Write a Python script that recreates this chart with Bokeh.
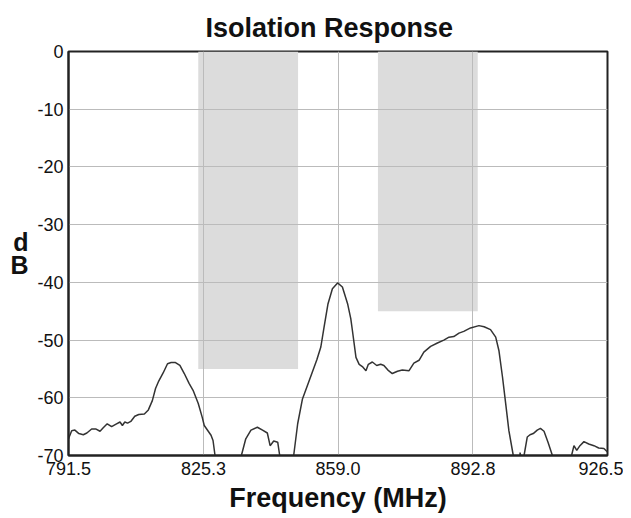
from bokeh.plotting import figure
from bokeh.models import FixedTicker, Range1d
from bokeh.embed import file_html
from bokeh.resources import INLINE

# ---- data ----
freq_mhz = [
    791.5, 792.3, 793.1, 794.1, 795.2, 796.1, 797.3, 798.3, 799.4, 800.2,
    801.2, 802.3, 803.3, 804.4, 805.0, 805.6, 806.3, 807.1, 808.1, 809.1,
    810.5, 811.5, 812.5, 813.3, 814.1, 815.2, 816.3, 817.2, 818.3, 819.4,
    820.5, 821.7, 822.7, 824.0, 825.0, 825.5, 827.2, 827.7, 828.2, 828.6,
    834.4, 834.8, 835.9, 837.2, 838.8, 840.1, 841.3, 842.0, 842.9, 843.9,
    844.4, 844.8,
    847.5, 847.9, 848.9, 850.1, 851.8, 853.7, 854.7, 855.5, 856.5, 857.6,
    858.9, 860.1, 861.4, 862.2, 862.6, 863.5, 864.3, 865.1, 866.0, 866.6,
    867.6, 868.7, 869.7, 870.5, 871.5, 872.6, 873.9, 875.1, 876.8, 878.0,
    879.3, 880.5, 882.2, 883.9, 885.5, 886.8, 888.0, 889.3, 890.5, 892.2,
    894.3, 895.6, 897.2, 898.5, 899.3, 900.2, 901.0, 901.8, 902.9, 903.3,
    904.3, 904.6, 904.9, 905.2, 905.6, 906.4, 907.1, 907.9, 908.9, 909.7,
    910.6, 911.6, 912.7, 913.1,
    917.1, 917.5, 918.1, 918.8, 919.6, 920.6, 921.8, 923.1, 924.3, 925.6,
    926.5,
]
response_db = [
    -67.1, -65.7, -65.6, -66.2, -66.4, -66.1, -65.4, -65.4, -65.8, -65.2,
    -64.5, -65.0, -64.6, -64.2, -64.8, -64.2, -64.4, -64.1, -63.2, -62.9,
    -62.8, -62.1, -60.5, -58.4, -57.1, -55.7, -54.1, -53.9, -53.9, -54.4,
    -55.8, -57.5, -58.7, -61.0, -63.4, -64.8, -66.5, -67.4, -70.0, -80.0,
    -80.0, -70.0, -67.1, -65.6, -65.1, -65.6, -66.1, -68.3, -67.5, -67.7,
    -70.0, -80.0,
    -80.0, -70.0, -64.5, -60.2, -57.0, -53.4, -51.2, -47.8, -43.7, -41.1,
    -40.1, -40.8, -43.7, -46.3, -48.3, -53.0, -54.2, -54.6, -55.3, -54.2,
    -53.8, -54.4, -54.2, -54.4, -55.2, -55.8, -55.4, -55.2, -55.3, -54.0,
    -53.5, -52.1, -51.1, -50.5, -50.0, -49.5, -49.4, -48.8, -48.5, -47.9,
    -47.5, -47.7, -48.2, -49.5, -51.8, -56.4, -61.0, -65.7, -70.0, -80.0,
    -80.0, -69.5, -70.5, -80.0, -70.0, -66.8, -66.4, -66.2, -65.6, -65.3,
    -65.8, -67.7, -70.0, -80.0,
    -80.0, -70.0, -68.3, -69.1, -68.3, -67.6, -68.0, -68.3, -68.7, -68.8,
    -69.4,
]

# shaded pass bands
band_left = [824.0, 869.0]
band_right = [849.0, 894.0]
band_top = [0.0, 0.0]
band_bottom = [-55.0, -45.0]

x_ticks = [791.5, 825.3, 859.0, 892.8, 926.5]
x_tick_labels = ["791.5", "825.3", "859.0", "892.8", "926.5"]
y_ticks = [0, -10, -20, -30, -40, -50, -60, -70]
y_tick_labels = ["0", "-10", "-20", "-30", "-40", "-50", "-60", "-70"]

FONT = "Liberation Sans"
TXT = "#111111"

p = figure(
    width=623, height=518,
    x_range=Range1d(791.5, 926.5), y_range=Range1d(-70, 0),
    output_backend="svg", toolbar_location=None,
    min_border_left=68, min_border_right=16, min_border_top=51, min_border_bottom=63,
    title="Isolation Response",
)
p.background_fill_color = "white"
p.border_fill_color = "white"
p.outline_line_color = "#222222"
p.outline_line_width = 2

p.title.align = "left"
p.title.offset = 137
p.title.text_font = FONT
p.title.text_font_size = "27px"
p.title.text_font_style = "bold"
p.title.text_color = TXT
p.title.standoff = 18

p.quad(left=band_left, right=band_right, top=band_top, bottom=band_bottom,
       fill_color="#dcdcdc", line_color=None, level="image")

p.line(freq_mhz, response_db, line_color="#333333", line_width=1.5)

# axes
p.xaxis.ticker = FixedTicker(ticks=x_ticks)
p.xaxis.major_label_overrides = {t: l for t, l in zip(x_ticks, x_tick_labels)}
p.yaxis.ticker = FixedTicker(ticks=y_ticks)
p.yaxis.major_label_overrides = {t: l for t, l in zip(y_ticks, y_tick_labels)}
for ax in (p.xaxis, p.yaxis):
    ax.major_tick_line_color = None
    ax.minor_tick_line_color = None
    ax.major_tick_out = 0
    ax.major_tick_in = 0
    ax.axis_line_color = "#222222"
    ax.axis_line_width = 2
    ax.major_label_text_font = FONT
    ax.major_label_text_font_size = "18px"
    ax.major_label_text_color = TXT
p.xaxis.major_label_standoff = 6
p.yaxis.major_label_standoff = 5

p.xaxis.axis_label = "Frequency (MHz)"
p.xaxis.axis_label_text_font = FONT
p.xaxis.axis_label_text_font_size = "27px"
p.xaxis.axis_label_text_font_style = "bold"
p.xaxis.axis_label_text_color = TXT
p.xaxis.axis_label_standoff = 5

# stacked "dB" label on the left
p.yaxis.axis_label = "d\nB"
p.yaxis.axis_label_text_font = FONT
p.yaxis.axis_label_text_font_size = "25px"
p.yaxis.axis_label_text_font_style = "bold"
p.yaxis.axis_label_text_color = TXT
p.yaxis.axis_label_text_line_height = 0.8
p.yaxis.axis_label_standoff = 6
try:
    p.yaxis.axis_label_orientation = "horizontal"
except Exception:
    pass

p.xgrid.ticker = FixedTicker(ticks=x_ticks[1:-1])
p.ygrid.ticker = FixedTicker(ticks=y_ticks[1:-1])
p.grid.grid_line_color = "#bbbbbb"
p.grid.grid_line_width = 1

open("out.html", "w").write(file_html(p, INLINE))
